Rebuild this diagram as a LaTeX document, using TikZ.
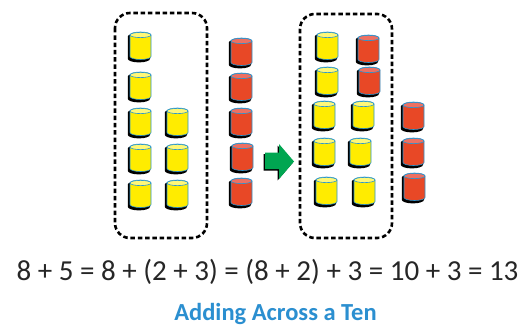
\documentclass[tikz,border=0pt]{standalone}
\usepackage{fontspec}
\setmainfont{Carlito}
\definecolor{cubeyellow}{RGB}{255,236,0}
\definecolor{cubeyellowtop}{RGB}{255,248,120}
\definecolor{cubered}{RGB}{232,72,38}
\definecolor{cuberedtop}{RGB}{238,112,98}
\definecolor{rimblue}{RGB}{40,150,210}
\definecolor{arrowgreen}{RGB}{0,166,81}
\definecolor{titleblue}{RGB}{43,143,208}
\tikzset{
  x=1pt, y=1pt,
  groupbox/.style={draw=black, line width=2.6pt, dash pattern=on 4.5pt off 2.8pt, rounded corners=15pt},
  eqtext/.style={font=\fontsize{29}{34}\selectfont, text=black!85, inner sep=0pt, anchor=base},
  titletext/.style={font=\bfseries\fontsize{24.5}{28}\selectfont, text=titleblue, inner sep=0pt, anchor=base},
  pics/cyl/.style n args={2}{code={
    % dark offset shadow
    \fill[black, shift={(-1.6,-1.8)}] (-0.6,-2.6) -- (-0.6,-25) arc[start angle=180,end angle=360,x radius=11.1,y radius=3.6]
      -- (21.6,-2.6) arc[start angle=0,end angle=180,x radius=11.1,y radius=3.2] -- cycle;
    % body
    \fill[#1, draw=rimblue, line width=0.6pt] (0,-3) -- (0,-24.5) arc[start angle=180,end angle=360,x radius=10.5,y radius=3]
      -- (21,-3) arc[start angle=0,end angle=180,x radius=10.5,y radius=3] -- cycle;
    % top face
    \fill[#2, draw=rimblue, line width=0.6pt] (10.5,-3) ellipse[x radius=10.5,y radius=2.6];
  }}
}
\begin{document}
\begin{tikzpicture}
\useasboundingbox[fill=white] (0,0) rectangle (529,-326);

% grouping frames
\draw[groupbox] (115,-13) rectangle (207,-238);
\draw[groupbox] (300,-14) rectangle (392,-238);

% eight yellow counters
\pic at (130,-32) {cyl={cubeyellow}{cubeyellowtop}};
\pic at (130,-72) {cyl={cubeyellow}{cubeyellowtop}};
\pic at (130,-108) {cyl={cubeyellow}{cubeyellowtop}};
\pic at (130,-144) {cyl={cubeyellow}{cubeyellowtop}};
\pic at (130,-180) {cyl={cubeyellow}{cubeyellowtop}};
\pic at (167,-108) {cyl={cubeyellow}{cubeyellowtop}};
\pic at (167,-144) {cyl={cubeyellow}{cubeyellowtop}};
\pic at (167,-180) {cyl={cubeyellow}{cubeyellowtop}};

% five red counters
\pic at (231,-38) {cyl={cubered}{cuberedtop}};
\pic at (231,-73) {cyl={cubered}{cuberedtop}};
\pic at (231,-108) {cyl={cubered}{cuberedtop}};
\pic at (232,-143) {cyl={cubered}{cuberedtop}};
\pic at (231,-178) {cyl={cubered}{cuberedtop}};

% green arrow
\fill[black, shift={(-1.5,-1.5)}] (265,-152.5) -- (279,-152.5) -- (279,-144) -- (294,-161.5) -- (279,-179) -- (279,-169) -- (265,-169) -- cycle;
\fill[arrowgreen] (265,-152.5) -- (279,-152.5) -- (279,-144) -- (294,-161.5) -- (279,-179) -- (279,-169) -- (265,-169) -- cycle;

% the ten after regrouping
\pic at (317,-32) {cyl={cubeyellow}{cubeyellowtop}};
\pic at (317,-67) {cyl={cubeyellow}{cubeyellowtop}};
\pic at (314,-101) {cyl={cubeyellow}{cubeyellowtop}};
\pic at (314,-138) {cyl={cubeyellow}{cubeyellowtop}};
\pic at (316,-177) {cyl={cubeyellow}{cubeyellowtop}};
\pic at (358,-35) {cyl={cubered}{cuberedtop}};
\pic at (359,-67) {cyl={cubered}{cuberedtop}};
\pic at (353,-101) {cyl={cubeyellow}{cubeyellowtop}};
\pic at (350,-138) {cyl={cubeyellow}{cubeyellowtop}};
\pic at (354,-177) {cyl={cubeyellow}{cubeyellowtop}};

% remaining ones
\pic at (403,-102) {cyl={cubered}{cuberedtop}};
\pic at (403,-138) {cyl={cubered}{cuberedtop}};
\pic at (404,-173) {cyl={cubered}{cuberedtop}};

% equation and caption
\node[eqtext] (eq) at (267.5,-280) {8 + 5 = 8 + (2 + 3) = (8 + 2) + 3 = 10 + 3 = 13};
\node[titletext] (title) at (275.5,-320.5) {Adding Across a Ten};
\end{tikzpicture}
\end{document}
